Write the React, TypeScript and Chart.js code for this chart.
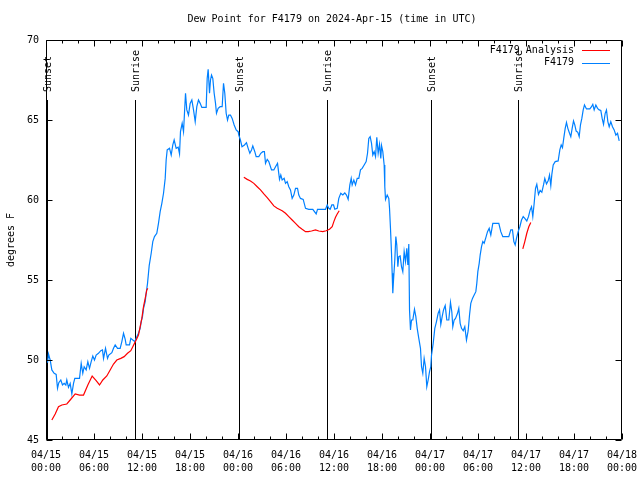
import React, { useEffect, useRef } from 'react';
import { Chart, registerables } from 'chart.js';

Chart.register(...registerables);

const titleText = 'Dew Point for F4179 on 2024-Apr-15 (time in UTC)';
const yAxisTitle = 'degrees F';
const startMonth = '04';
const startDay = 15;
const xMin = 0;
const xMax = 72;
const xMajorStep = 6;
const xMinorStep = 2;
const yMin = 45;
const yMax = 70;
const yStep = 5;

const sunEventHours = [0.1, 11.1, 24.1, 35.1, 48.1, 59.0];
const sunEventLabels = ['Sunset', 'Sunrise', 'Sunset', 'Sunrise', 'Sunset', 'Sunrise'];

const analysisLabel = 'F4179 Analysis';
const obsLabel = 'F4179';

const obsHours = [
  0.19, 0.31, 0.52, 0.73, 1.02, 1.27, 1.44, 1.6, 1.85, 2.06, 2.27, 2.48, 2.6, 2.81, 3.02, 3.23, 3.44, 3.6, 4.19, 4.4,
  4.6, 4.77, 5.02, 5.23, 5.44, 5.65, 5.85, 6.06, 6.27, 6.56, 6.85, 7.06, 7.19, 7.44, 7.69, 7.85, 8.23, 8.44, 8.65, 8.94,
  9.27, 9.48, 9.69, 9.9, 10.02, 10.44, 10.6, 10.85, 11.1, 11.35, 11.56, 11.77, 11.9, 12.06, 12.19, 12.4, 12.52, 12.69, 12.81, 12.9,
  13.15, 13.35, 13.56, 13.85, 14.06, 14.27, 14.48, 14.69, 14.9, 15.02, 15.15, 15.44, 15.65, 15.85, 16.02, 16.27, 16.52, 16.69, 16.81, 17.02,
  17.19, 17.31, 17.44, 17.6, 17.81, 18.02, 18.23, 18.44, 18.65, 18.85, 19.06, 19.27, 19.48, 20.02, 20.15, 20.27, 20.44, 20.56, 20.69, 20.85,
  21.02, 21.19, 21.31, 21.52, 21.77, 22.02, 22.19, 22.35, 22.52, 22.69, 22.85, 23.06, 23.27, 23.52, 23.77, 24.02, 24.1, 24.3, 24.5, 24.81,
  25.06, 25.27, 25.48, 25.69, 25.85, 26.1, 26.27, 26.6, 26.85, 27.1, 27.3, 27.44, 27.65, 27.85, 28.19, 28.48, 28.69, 28.94, 29.19, 29.35,
  29.52, 29.77, 29.94, 30.15, 30.35, 30.56, 30.77, 30.98, 31.19, 31.44, 31.6, 31.81, 32.15, 32.44, 32.85, 33.35, 33.77, 33.94, 34.3, 34.94,
  35.15, 35.35, 35.52, 35.73, 35.94, 36.1, 36.4, 36.6, 36.85, 37.1, 37.35, 37.56, 37.77, 37.98, 38.15, 38.27, 38.48, 38.69, 38.9, 39.1,
  39.31, 39.52, 39.77, 40.02, 40.19, 40.35, 40.52, 40.69, 40.85, 41.02, 41.19, 41.35, 41.52, 41.69, 41.85, 41.94, 42.1, 42.27, 42.35, 42.44,
  42.65, 42.85, 42.94, 43.06, 43.19, 43.27, 43.35, 43.44, 43.6, 43.73, 43.85, 43.98, 44.1, 44.27, 44.44, 44.6, 44.77, 44.94, 45.1, 45.23,
  45.35, 45.44, 45.56, 45.69, 45.85, 46.06, 46.23, 46.4, 46.6, 46.81, 46.94, 47.1, 47.27, 47.44, 47.6, 47.77, 47.94, 48.1, 48.19, 48.4,
  48.6, 48.81, 49.02, 49.19, 49.35, 49.52, 49.69, 49.9, 50.1, 50.35, 50.56, 50.73, 50.85, 51.02, 51.19, 51.44, 51.6, 51.77, 51.94, 52.15,
  52.35, 52.56, 52.77, 52.94, 53.1, 53.31, 53.52, 53.73, 53.85, 53.98, 54.15, 54.27, 54.44, 54.6, 54.77, 54.98, 55.19, 55.4, 55.6, 55.85,
  56.6, 56.85, 57.1, 57.85, 58.1, 58.31, 58.48, 58.65, 58.81, 59.02, 59.23, 59.44, 59.65, 59.85, 60.1, 60.31, 60.52, 60.69, 60.85, 61.02,
  61.19, 61.35, 61.56, 61.77, 61.98, 62.19, 62.35, 62.56, 62.77, 62.94, 63.1, 63.23, 63.4, 63.65, 64.02, 64.23, 64.4, 64.56, 64.73, 64.9,
  65.06, 65.23, 65.44, 65.6, 65.77, 65.94, 66.1, 66.27, 66.48, 66.65, 66.81, 66.98, 67.15, 67.31, 67.56, 67.98, 68.19, 68.35, 68.52, 68.73,
  68.94, 69.15, 69.35, 69.52, 69.69, 69.9, 70.06, 70.23, 70.4, 70.6, 70.81, 71.02, 71.23, 71.44, 71.65,
];

const obsValues = [
  49.83, 50.38, 50.0, 49.38, 49.17, 49.1, 48.23, 48.58, 48.75, 48.44, 48.54, 48.44, 48.75, 48.29, 48.54, 47.88, 48.54, 48.85, 48.85, 49.79,
  49.17, 49.58, 49.38, 49.9, 49.48, 49.9, 50.25, 50.0, 50.31, 50.42, 50.58, 50.63, 50.1, 50.73, 50.1, 50.31, 50.46, 50.73, 50.94, 50.73,
  50.73, 51.15, 51.67, 51.29, 50.94, 50.94, 51.35, 51.25, 51.15, 51.46, 51.67, 51.98, 52.4, 52.71, 53.23, 53.65, 54.17, 54.79, 55.42, 55.9,
  56.67, 57.4, 57.71, 57.92, 58.54, 59.27, 59.79, 60.42, 61.35, 62.5, 63.13, 63.23, 62.81, 63.44, 63.75, 63.23, 63.3, 62.88, 64.27, 64.79,
  64.27, 65.42, 66.67, 65.63, 65.31, 66.04, 66.25, 65.63, 64.9, 65.83, 66.25, 66.04, 65.79, 65.79, 67.6, 68.17, 66.67, 67.5, 67.81, 67.6,
  66.67, 66.04, 65.42, 65.73, 65.83, 65.83, 67.29, 66.67, 65.42, 65.0, 65.31, 65.31, 65.1, 64.69, 64.38, 64.27, 64.06, 63.75, 63.33, 63.44,
  63.58, 63.23, 62.92, 63.13, 63.38, 63.02, 62.71, 62.71, 62.92, 63.02, 63.02, 62.29, 62.54, 62.4, 61.88, 61.88, 62.08, 62.29, 61.29, 61.56,
  61.25, 61.35, 61.04, 61.15, 60.83, 60.63, 60.1, 60.31, 60.73, 60.73, 60.31, 60.1, 60.04, 59.48, 59.42, 59.42, 59.13, 59.42, 59.42, 59.42,
  59.69, 59.48, 59.42, 59.69, 59.69, 59.42, 59.48, 60.1, 60.42, 60.31, 60.44, 60.31, 60.04, 60.94, 61.35, 60.94, 61.25, 60.94, 61.35, 61.35,
  61.88, 61.98, 62.19, 62.4, 62.92, 63.85, 63.96, 63.54, 62.81, 63.02, 62.71, 63.92, 62.92, 63.48, 62.6, 63.4, 63.02, 62.19, 60.83, 60.04,
  60.31, 60.1, 59.48, 58.23, 56.67, 55.42, 54.17, 55.0, 56.25, 57.71, 57.19, 55.83, 56.46, 56.5, 55.83, 55.52, 56.77, 56.15, 56.98, 55.94,
  57.25, 53.13, 51.88, 52.5, 52.5, 53.17, 52.71, 51.98, 51.35, 50.73, 49.58, 49.17, 50.1, 49.58, 48.33, 48.75, 49.27, 49.58, 50.31, 51.04,
  51.98, 52.4, 52.92, 53.13, 52.23, 52.71, 53.13, 53.4, 52.5, 52.5, 53.6, 53.0, 52.08, 52.5, 52.6, 52.92, 53.23, 52.29, 51.98, 51.83,
  52.08, 51.25, 51.83, 52.81, 53.54, 53.85, 54.06, 54.27, 54.79, 55.52, 56.04, 56.56, 57.08, 57.4, 57.3, 57.65, 58.02, 58.23, 57.81, 58.54,
  58.54, 58.02, 57.71, 57.71, 58.13, 58.13, 57.4, 57.19, 57.6, 58.02, 58.33, 58.75, 58.96, 58.85, 58.69, 58.96, 59.38, 59.58, 58.96, 59.79,
  60.73, 60.98, 60.35, 60.6, 60.48, 60.94, 61.35, 61.0, 61.2, 61.56, 60.9, 61.6, 62.19, 62.4, 62.44, 63.13, 63.44, 63.27, 63.9, 64.48,
  64.85, 64.48, 64.17, 63.96, 64.48, 64.94, 64.7, 64.31, 64.23, 63.96, 64.7, 65.1, 65.63, 65.94, 65.69, 65.69, 65.83, 65.98, 65.63, 65.94,
  65.73, 65.63, 65.6, 65.1, 64.73, 65.42, 65.63, 64.9, 64.58, 64.9, 64.58, 64.38, 64.06, 64.17, 63.69,
];

// null values separate the three analysis segments
const analysisHours = [
  0.73, 1.15, 1.56, 1.98, 2.6, 3.02, 3.65, 4.19, 4.69, 5.23, 5.77, 6.27, 6.69, 7.1, 7.6, 8.02, 8.44, 8.85, 9.35, 9.77,
  10.19, 10.6, 10.85, 11.06, 11.27, 11.56, 11.77, 11.98, 12.19, 12.4, 12.6, 12.73,
  18.0,
  24.73, 25.15, 25.56, 25.98, 26.4, 26.81, 27.23, 27.65, 28.06, 28.48, 28.9, 29.52, 29.94, 30.35, 30.77, 31.19, 31.6, 32.02, 32.44, 32.77,
  33.19, 33.69, 34.1, 34.6, 35.02, 35.44, 35.77, 35.98, 36.19, 36.4, 36.65,
  48.0,
  59.6, 59.85, 60.1, 60.35, 60.6,
];
const analysisValues = [
  46.25, 46.63, 47.08, 47.19, 47.25, 47.5, 47.88, 47.81, 47.81, 48.44, 49.0, 48.71, 48.44, 48.75, 49.0, 49.38, 49.75, 50.0, 50.1, 50.21,
  50.42, 50.58, 50.83, 51.04, 51.25, 51.56, 52.08, 52.6, 53.33, 53.85, 54.38, 54.48,
  null,
  61.42, 61.29, 61.19, 61.04, 60.83, 60.63, 60.38, 60.15, 59.9, 59.63, 59.48, 59.33, 59.17, 58.96, 58.75, 58.54, 58.33, 58.17, 58.02, 58.02,
  58.06, 58.13, 58.06, 58.02, 58.08, 58.17, 58.33, 58.65, 58.92, 59.13, 59.33,
  null,
  56.94, 57.4, 57.92, 58.33, 58.6,
];

const FONT = '"DejaVu Sans Mono", "Liberation Mono", monospace';
const RED = '#ff0000';
const BLUE = '#0080ff';

function formatHour(v: number): string[] {
  const day = startDay + Math.floor(v / 24);
  const hh = v % 24;
  return [`${startMonth}/${day}`, `${String(hh).padStart(2, '0')}:00`];
}

const framePlugin = {
  id: 'gnuFrame',
  beforeDatasetsDraw(chart: any) {
    const { ctx, chartArea, scales } = chart;
    const xs = scales.x;
    ctx.save();
    ctx.strokeStyle = '#000';
    ctx.fillStyle = '#000';
    ctx.lineWidth = 1;
    ctx.font = `10px ${FONT}`;
    sunEventHours.forEach((h, i) => {
      const px = Math.round(xs.getPixelForValue(h)) + 0.5;
      ctx.beginPath();
      ctx.moveTo(px, chartArea.top + 60);
      ctx.lineTo(px, chartArea.bottom);
      ctx.stroke();
      ctx.save();
      ctx.translate(px + 1, chartArea.top + 52);
      ctx.rotate(-Math.PI / 2);
      ctx.textAlign = 'left';
      ctx.textBaseline = 'middle';
      ctx.fillText(sunEventLabels[i], 0, 0);
      ctx.restore();
    });
    ctx.restore();
  },
  afterDraw(chart: any) {
    const { ctx, chartArea, scales } = chart;
    const { left, right, top, bottom } = chartArea;
    const xs = scales.x;
    const ys = scales.y;
    ctx.save();
    ctx.strokeStyle = '#000';
    ctx.fillStyle = '#000';
    ctx.lineWidth = 1;
    const L = Math.round(left) + 0.5;
    const R = Math.round(right) - 0.5;
    const T = Math.round(top) + 0.5;
    const B = Math.round(bottom) - 0.5;
    ctx.beginPath();
    ctx.rect(L, T, R - L, B - T);
    ctx.stroke();
    ctx.beginPath();
    for (let h = xMin; h <= xMax; h += xMinorStep) {
      const px = Math.round(xs.getPixelForValue(h)) + 0.5;
      const len = h % xMajorStep === 0 ? 6 : 3;
      ctx.moveTo(px, B);
      ctx.lineTo(px, B - len);
      ctx.moveTo(px, T);
      ctx.lineTo(px, T + len);
    }
    for (let v = yMin; v <= yMax; v += yStep) {
      const py = Math.round(ys.getPixelForValue(v)) + 0.5;
      ctx.moveTo(L, py);
      ctx.lineTo(L + 6, py);
      ctx.moveTo(R, py);
      ctx.lineTo(R - 6, py);
    }
    ctx.stroke();

    ctx.font = `10px ${FONT}`;
    ctx.textAlign = 'center';
    ctx.textBaseline = 'middle';
    ctx.fillText(titleText, 332, 19);

    ctx.save();
    ctx.translate(11, 240);
    ctx.rotate(-Math.PI / 2);
    ctx.fillText(yAxisTitle, 0, 0);
    ctx.restore();

    const ds = chart.data.datasets;
    ds.forEach((d: any, i: number) => {
      const y = 50 + i * 12.5;
      ctx.textAlign = 'right';
      ctx.fillStyle = '#000';
      ctx.fillText(d.label, 574, y);
      ctx.strokeStyle = d.borderColor;
      ctx.beginPath();
      ctx.moveTo(582, Math.round(y) + 0.5);
      ctx.lineTo(610, Math.round(y) + 0.5);
      ctx.stroke();
    });
    ctx.restore();
  },
};

export default function App() {
  const ref = useRef<HTMLCanvasElement>(null);
  useEffect(() => {
    const canvas = ref.current;
    if (!canvas) return;
    const chart = new Chart(canvas, {
      type: 'line',
      data: {
        datasets: [
          {
            label: analysisLabel,
            data: analysisHours.map((h, i) => ({ x: h, y: analysisValues[i] })) as any,
            borderColor: RED,
            borderWidth: 1.2,
            pointRadius: 0,
            tension: 0,
            spanGaps: false,
            fill: false,
          },
          {
            label: obsLabel,
            data: obsHours.map((h, i) => ({ x: h, y: obsValues[i] })) as any,
            borderColor: BLUE,
            borderWidth: 1.2,
            pointRadius: 0,
            tension: 0,
            fill: false,
          },
        ],
      },
      options: {
        animation: false,
        responsive: false,
        events: [],
        layout: { padding: { top: 40, right: 18, left: 0, bottom: 0 } },
        plugins: {
          legend: { display: false },
          tooltip: { enabled: false },
          title: { display: false },
        },
        scales: {
          x: {
            type: 'linear',
            min: xMin,
            max: xMax,
            grid: { display: false, drawTicks: false },
            border: { display: false },
            ticks: {
              stepSize: xMajorStep,
              autoSkip: false,
              maxRotation: 0,
              padding: 9,
              color: '#000',
              font: { family: FONT, size: 10, lineHeight: 1.3 },
              callback: (v: any) => formatHour(Number(v)),
            },
            afterFit: (s: any) => {
              s.height = 40;
              s.paddingLeft = 0;
              s.paddingRight = 0;
            },
          },
          y: {
            type: 'linear',
            min: yMin,
            max: yMax,
            grid: { display: false, drawTicks: false },
            border: { display: false },
            ticks: {
              stepSize: yStep,
              padding: 7,
              color: '#000',
              font: { family: FONT, size: 10 },
            },
            afterFit: (s: any) => {
              s.width = 46;
              s.paddingTop = 0;
              s.paddingBottom = 0;
            },
          },
        },
      } as any,
      plugins: [framePlugin],
    });
    return () => chart.destroy();
  }, []);
  return (
    <div style={{ position: 'absolute', left: 0, top: 0, width: 640, height: 480, background: '#fff' }}>
      <canvas ref={ref} width={640} height={480} style={{ display: 'block' }} />
    </div>
  );
}
